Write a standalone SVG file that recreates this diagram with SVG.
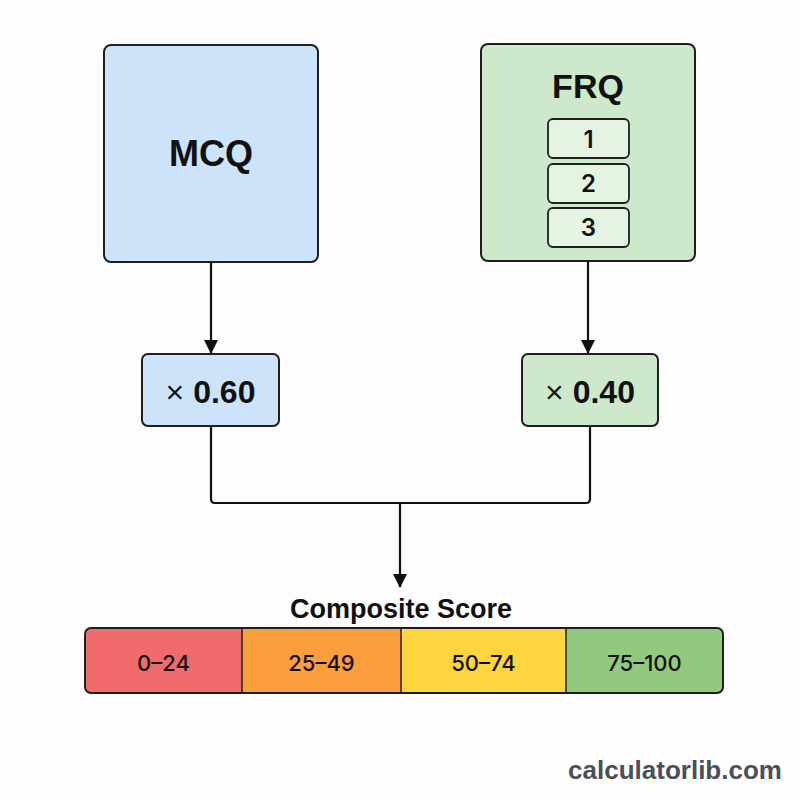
<svg xmlns="http://www.w3.org/2000/svg" width="800" height="800" viewBox="0 0 800 800">
<style>
.box{stroke:#1f1f1f;stroke-width:2}
.blue{fill:#cce3f9}
.green{fill:#cde8cb}
.sub{fill:#e5f3e2;stroke:#1f1f1f;stroke-width:1.8}
.t{font-family:"Liberation Sans",Arial,sans-serif;font-weight:bold;fill:#111;text-anchor:middle}
.lab{font-family:Inter,"Liberation Sans",Arial,sans-serif;font-weight:500;fill:#111;text-anchor:middle;font-size:22px}
.dig{font-family:Inter,"Liberation Sans",Arial,sans-serif;font-weight:600;fill:#111;text-anchor:middle;font-size:24px}
.conn{fill:none;stroke:#111;stroke-width:2.2}
</style>
<defs>
<marker id="arr" markerWidth="14" markerHeight="14" refX="13" refY="7" orient="auto" markerUnits="userSpaceOnUse" viewBox="0 0 14 14">
<path d="M0,0 L14,7 L0,14 z" fill="#111"/>
</marker>
</defs>
<rect width="800" height="800" fill="#fdfdfd"/>
<g id="connectors">
<line class="conn" x1="211" y1="262" x2="211" y2="353" marker-end="url(#arr)"/>
<line class="conn" x1="588" y1="261" x2="588" y2="353" marker-end="url(#arr)"/>
<path class="conn" d="M211,426 V499 Q211,503 215,503 H586 Q590,503 590,499 V426"/>
<line class="conn" x1="400" y1="503" x2="400" y2="587" marker-end="url(#arr)"/>
</g>
<g id="mcq">
<rect class="box blue" x="104" y="45" width="214" height="217" rx="7"/>
<text class="t" x="211" y="166" font-size="36">MCQ</text>
</g>
<g id="frq">
<rect class="box green" x="481" y="44" width="214" height="217" rx="7"/>
<text class="t" x="588" y="98" font-size="34">FRQ</text>
<rect class="sub" x="548" y="119" width="81" height="39" rx="5"/>
<text class="dig" x="588.5" y="148">1</text>
<rect class="sub" x="548" y="164" width="81" height="39" rx="5"/>
<text class="dig" x="588.5" y="192">2</text>
<rect class="sub" x="548" y="208" width="81" height="39" rx="5"/>
<text class="dig" x="588.5" y="236">3</text>
</g>
<g id="w60">
<rect class="box blue" x="142" y="354" width="137" height="72" rx="6"/>
<text class="t" x="210.5" y="403" font-size="32"><tspan font-weight="normal">×</tspan> 0.60</text>
</g>
<g id="w40">
<rect class="box green" x="522" y="354" width="136" height="72" rx="6"/>
<text class="t" x="590" y="403" font-size="32"><tspan font-weight="normal">×</tspan> 0.40</text>
</g>
<g id="composite">
<text class="t" x="401" y="618" font-size="27">Composite Score</text>
<path d="M91,628 H242 V693 H91 Q85,693 85,687 V634 Q85,628 91,628 z" fill="#f06b6b"/>
<rect x="242" y="628" width="159" height="65" fill="#fb9e3c"/>
<rect x="401" y="628" width="165" height="65" fill="#fdd540"/>
<path d="M566,628 H717 Q723,628 723,634 V687 Q723,693 717,693 H566 z" fill="#93c97f"/>
<rect x="85" y="628" width="638" height="65" rx="6" fill="none" stroke="#1f1f1f" stroke-width="2"/>
<line x1="242" y1="628" x2="242" y2="693" stroke="#1f1f1f" stroke-width="1.5"/>
<line x1="401" y1="628" x2="401" y2="693" stroke="#1f1f1f" stroke-width="1.5"/>
<line x1="566" y1="628" x2="566" y2="693" stroke="#1f1f1f" stroke-width="1.5"/>
<text class="lab" x="163.5" y="671">0–24</text>
<text class="lab" x="321.5" y="671">25–49</text>
<text class="lab" x="483.5" y="671">50–74</text>
<text class="lab" x="644.5" y="671">75–100</text>
</g>
<text class="t" x="675" y="779" font-size="26" style="fill:#4a4f5a">calculatorlib.com</text>
</svg>
